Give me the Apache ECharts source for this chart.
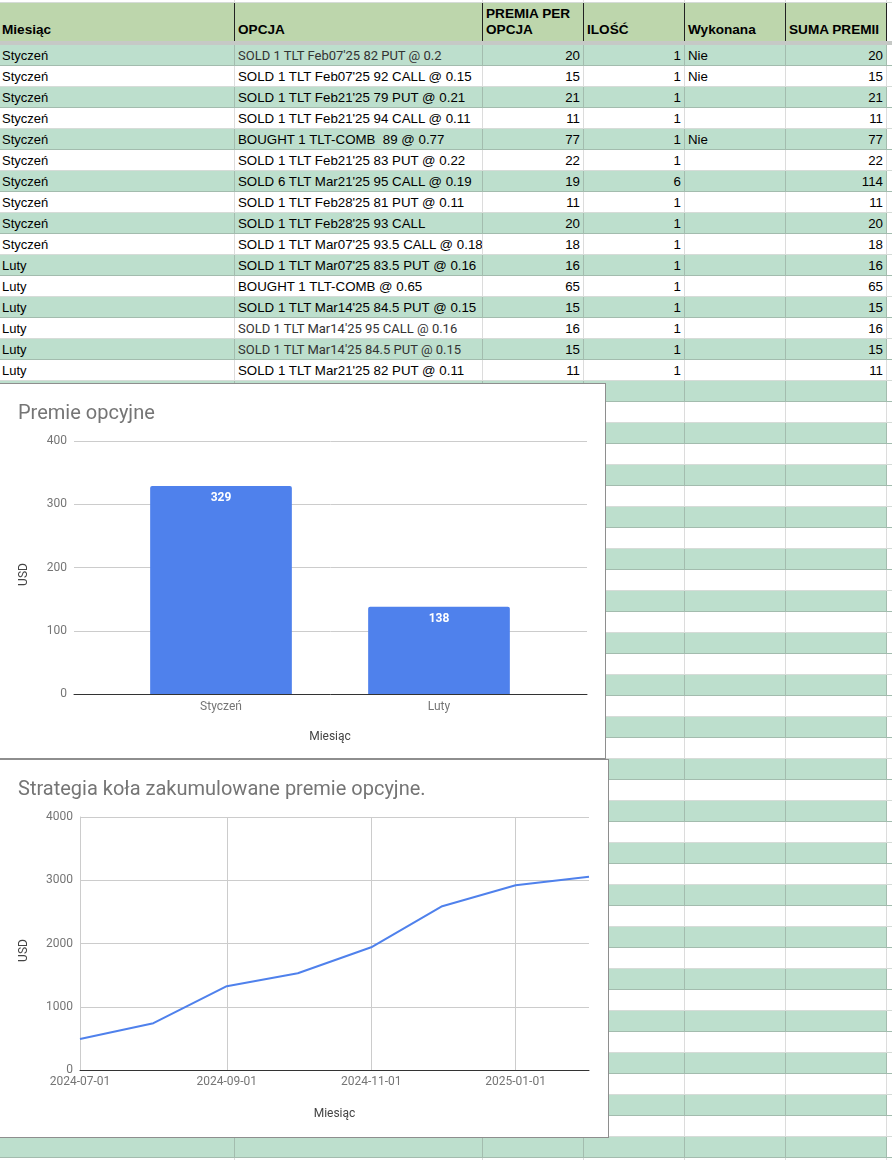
<!DOCTYPE html>
<html>
<head>
<meta charset="utf-8">
<title>Premie opcyjne</title>
<script src="https://cdn.jsdelivr.net/npm/echarts@6/dist/echarts.min.js"></script>
<style>
html,body{margin:0;padding:0;background:#fff;overflow:hidden}
#page{position:relative;width:892px;height:1160px;overflow:hidden;font-family:"Liberation Sans",Arial,sans-serif;color:#000}
.row{position:absolute;left:0;width:892px;height:21px;box-sizing:border-box}
.cell{position:absolute;top:0;height:100%;box-sizing:border-box;font-size:13.3px;line-height:21px;white-space:pre;overflow:hidden;padding:0 3px;border-right:1px solid #dcdcdc;border-bottom:1px solid #d6dcd8}
.cell.first{padding-left:2px;font-size:13px}
.row.green .cell{background:#bddfcd;border-right-color:#a3bcae;border-bottom-color:#a3bcae}
.cell.num{text-align:right;padding-right:3px}
.cell.tail{background:#fff !important;border-right:0}
.cell.soft{font-family:Roboto,sans-serif;font-size:13px;color:#333}
.head .cell{background:#bdd6ac;border-right:1px solid #222;border-bottom:0;font-weight:bold;font-size:13.6px;line-height:16px;white-space:normal}
.head .cell span{position:absolute;left:3px;bottom:3px;right:1px}
.head .cell.first span{left:2px}
#frozen{position:absolute;left:0;top:41px;width:892px;height:4px;background:#c6c9c6}
.chart{position:absolute;left:-1px;background:#fff;box-sizing:border-box;border:1px solid #8e8e8e}
#chart1{top:383px;width:607px;height:376px}
#chart2{top:759px;width:610px;height:379px}
</style>
</head>
<body>
<div id="page">
	<div id="sheet"></div>
	<div id="frozen"></div>
	<div id="chart1" class="chart"></div>
	<div id="chart2" class="chart"></div>
</div>
<script>
var headers = ['Miesiąc', 'OPCJA', 'PREMIA PER OPCJA', 'ILOŚĆ', 'Wykonana', 'SUMA PREMII'];
var months = ['Styczeń','Styczeń','Styczeń','Styczeń','Styczeń','Styczeń','Styczeń','Styczeń','Styczeń','Styczeń','Luty','Luty','Luty','Luty','Luty','Luty'];
var options = [
	"SOLD 1 TLT Feb07'25 82 PUT @ 0.2",
	"SOLD 1 TLT Feb07'25 92 CALL @ 0.15",
	"SOLD 1 TLT Feb21'25 79 PUT @ 0.21",
	"SOLD 1 TLT Feb21'25 94 CALL @ 0.11",
	"BOUGHT 1 TLT-COMB  89 @ 0.77",
	"SOLD 1 TLT Feb21'25 83 PUT @ 0.22",
	"SOLD 6 TLT Mar21'25 95 CALL @ 0.19",
	"SOLD 1 TLT Feb28'25 81 PUT @ 0.11",
	"SOLD 1 TLT Feb28'25 93 CALL",
	"SOLD 1 TLT Mar07'25 93.5 CALL @ 0.18",
	"SOLD 1 TLT Mar07'25 83.5 PUT @ 0.16",
	"BOUGHT 1 TLT-COMB @ 0.65",
	"SOLD 1 TLT Mar14'25 84.5 PUT @ 0.15",
	"SOLD 1 TLT Mar14'25 95 CALL @ 0.16",
	"SOLD 1 TLT Mar14'25 84.5 PUT @ 0.15",
	"SOLD 1 TLT Mar21'25 82 PUT @ 0.11"
];
var premiums = [20,15,21,11,77,22,19,11,20,18,16,65,15,16,15,11];
var quantities = [1,1,1,1,1,1,6,1,1,1,1,1,1,1,1,1];
var executed = ['Nie','Nie','','','Nie','','','','','','','','','','',''];
var totals = [20,15,21,11,77,22,114,11,20,18,16,65,15,16,15,11];
// these option cells are pasted in another font in the sheet
var softRows = [0, 13, 14];

var barMonths = ['Styczeń', 'Luty'];
var barValues = [329, 138];
var lineDates = ['2024-07-01','2024-08-01','2024-09-01','2024-10-01','2024-11-01','2024-12-01','2025-01-01','2025-02-01'];
var lineValues = [490, 740, 1325, 1530, 1940, 2590, 2920, 3057];
var lineTicks = ['2024-07-01','2024-09-01','2024-11-01','2025-01-01'];

// spreadsheet behind the charts
var colX = [0, 235, 483, 584, 685, 786, 887, 892];
var sheet = document.getElementById('sheet');

function addRow(top, height, cls, values, numeric, rowIndex) {
	var row = document.createElement('div');
	row.className = 'row ' + cls;
	row.style.top = top + 'px';
	row.style.height = height + 'px';
	for (var c = 0; c < colX.length - 1; c++) {
		var cell = document.createElement('div');
		cell.className = 'cell' + (numeric[c] ? ' num' : '') + (c === 6 ? ' tail' : '') + (c === 0 ? ' first' : '');
		if (c === 1 && softRows.indexOf(rowIndex) >= 0) {
			cell.className += ' soft';
		}
		cell.style.left = colX[c] + 'px';
		cell.style.width = (colX[c + 1] - colX[c]) + 'px';
		if (cls === 'head' && c < 6) {
			var span = document.createElement('span');
			span.textContent = values[c];
			cell.appendChild(span);
		} else if (c < 6) {
			cell.textContent = values[c];
		}
		row.appendChild(cell);
	}
	sheet.appendChild(row);
}

var blanks = ['', '', '', '', '', ''];
addRow(-18, 21, '', blanks, [], -1);
addRow(3, 38, 'head', headers, [], -1);
var numCols = [false, false, true, true, false, true];
for (var i = 0; i < 54; i++) {
	var vals = i < months.length ? [months[i], options[i], premiums[i], quantities[i], executed[i], totals[i]] : blanks;
	addRow(45 + 21 * i, 21, i % 2 === 0 ? 'green' : '', vals, numCols, i);
}

var axisGrey = '#757575';
var gridGrey = '#cccccc';
var nameGrey = '#444444';
var blue = '#4f81ec';
var titleStyle = { color: axisGrey, fontSize: 20, fontWeight: 'normal', fontFamily: 'Roboto' };

function plainNumber(v) {
	return String(v);
}

// two grids: the outer one carries gridlines and baseline, the inner one the bars,
// because the sheet chart pads its categories inside the plot
var barChart = echarts.init(document.getElementById('chart1'));
barChart.setOption({
	animation: false,
	textStyle: { fontFamily: 'Roboto' },
	title: { text: 'Premie opcyjne', left: 13, top: 15, textStyle: titleStyle },
	grid: [
		{ left: 74, right: 18, top: 57, bottom: 64 },
		{ left: 112, right: 57, top: 57, bottom: 64 }
	],
	xAxis: [{
		type: 'category',
		gridIndex: 0,
		data: [],
		z: 5,
		axisTick: { show: false },
		axisLabel: { show: false },
		axisLine: { lineStyle: { color: '#333' } }
	}, {
		type: 'category',
		gridIndex: 1,
		data: barMonths,
		name: 'Miesiąc',
		nameLocation: 'middle',
		nameGap: 37,
		nameTextStyle: { color: nameGrey, fontSize: 12 },
		axisTick: { show: false },
		axisLine: { show: false },
		axisLabel: { color: axisGrey, fontSize: 12, margin: 7 }
	}],
	yAxis: [{
		type: 'value',
		gridIndex: 0,
		min: 0,
		max: 400,
		interval: 100,
		name: 'USD',
		nameLocation: 'middle',
		nameGap: 44,
		nameTextStyle: { color: nameGrey, fontSize: 12, padding: [0, 14, 0, 0] },
		axisLine: { show: false },
		axisTick: { show: false },
		axisLabel: { color: axisGrey, fontSize: 12, margin: 7, padding: [2, 0, 0, 0] },
		splitLine: { lineStyle: { color: gridGrey } }
	}, {
		type: 'value',
		gridIndex: 1,
		min: 0,
		max: 400,
		interval: 100,
		axisLine: { show: false },
		axisTick: { show: false },
		axisLabel: { show: false },
		splitLine: { show: false }
	}],
	series: [{
		type: 'bar',
		xAxisIndex: 1,
		yAxisIndex: 1,
		data: barValues,
		barWidth: '65%',
		itemStyle: { color: blue, borderRadius: [2, 2, 0, 0] },
		label: { show: true, position: 'insideTop', distance: 6, color: '#fff', fontSize: 12, fontWeight: 'bold' }
	}]
});

var lineData = [];
for (var j = 0; j < lineDates.length; j++) {
	lineData.push([new Date(lineDates[j] + 'T00:00:00').getTime(), lineValues[j]]);
}
var tickValues = lineTicks.map(function (d) { return new Date(d + 'T00:00:00').getTime(); });

// value axis over timestamps: custom ticks every two months do not work on a time axis
var lineChart = echarts.init(document.getElementById('chart2'));
lineChart.setOption({
	animation: false,
	textStyle: { fontFamily: 'Roboto' },
	title: { text: 'Strategia koła zakumulowane premie opcyjne.', left: 13, top: 15, textStyle: titleStyle },
	grid: { left: 80, right: 19, top: 57, bottom: 67 },
	xAxis: {
		type: 'value',
		min: lineData[0][0],
		max: lineData[lineData.length - 1][0],
		name: 'Miesiąc',
		nameLocation: 'middle',
		nameGap: 38,
		nameTextStyle: { color: nameGrey, fontSize: 12 },
		axisLine: { lineStyle: { color: '#333' } },
		axisTick: { show: false, customValues: tickValues },
		axisLabel: {
			color: axisGrey,
			fontSize: 12,
			margin: 6,
			customValues: tickValues,
			formatter: function (v) { return echarts.time.format(v, '{yyyy}-{MM}-{dd}', false); }
		},
		splitLine: { show: true, lineStyle: { color: gridGrey } }
	},
	yAxis: {
		type: 'value',
		min: 0,
		max: 4000,
		interval: 1000,
		name: 'USD',
		nameLocation: 'middle',
		nameGap: 50,
		nameTextStyle: { color: nameGrey, fontSize: 12, padding: [0, 14, 0, 0] },
		axisLine: { show: true, lineStyle: { color: gridGrey } },
		axisTick: { show: false },
		axisLabel: { color: axisGrey, fontSize: 12, margin: 7, padding: [2, 0, 0, 0], formatter: plainNumber },
		splitLine: { lineStyle: { color: gridGrey } }
	},
	series: [{
		type: 'line',
		data: lineData,
		showSymbol: false,
		lineStyle: { color: blue, width: 2 },
		itemStyle: { color: blue }
	}]
});
</script>
</body>
</html>
